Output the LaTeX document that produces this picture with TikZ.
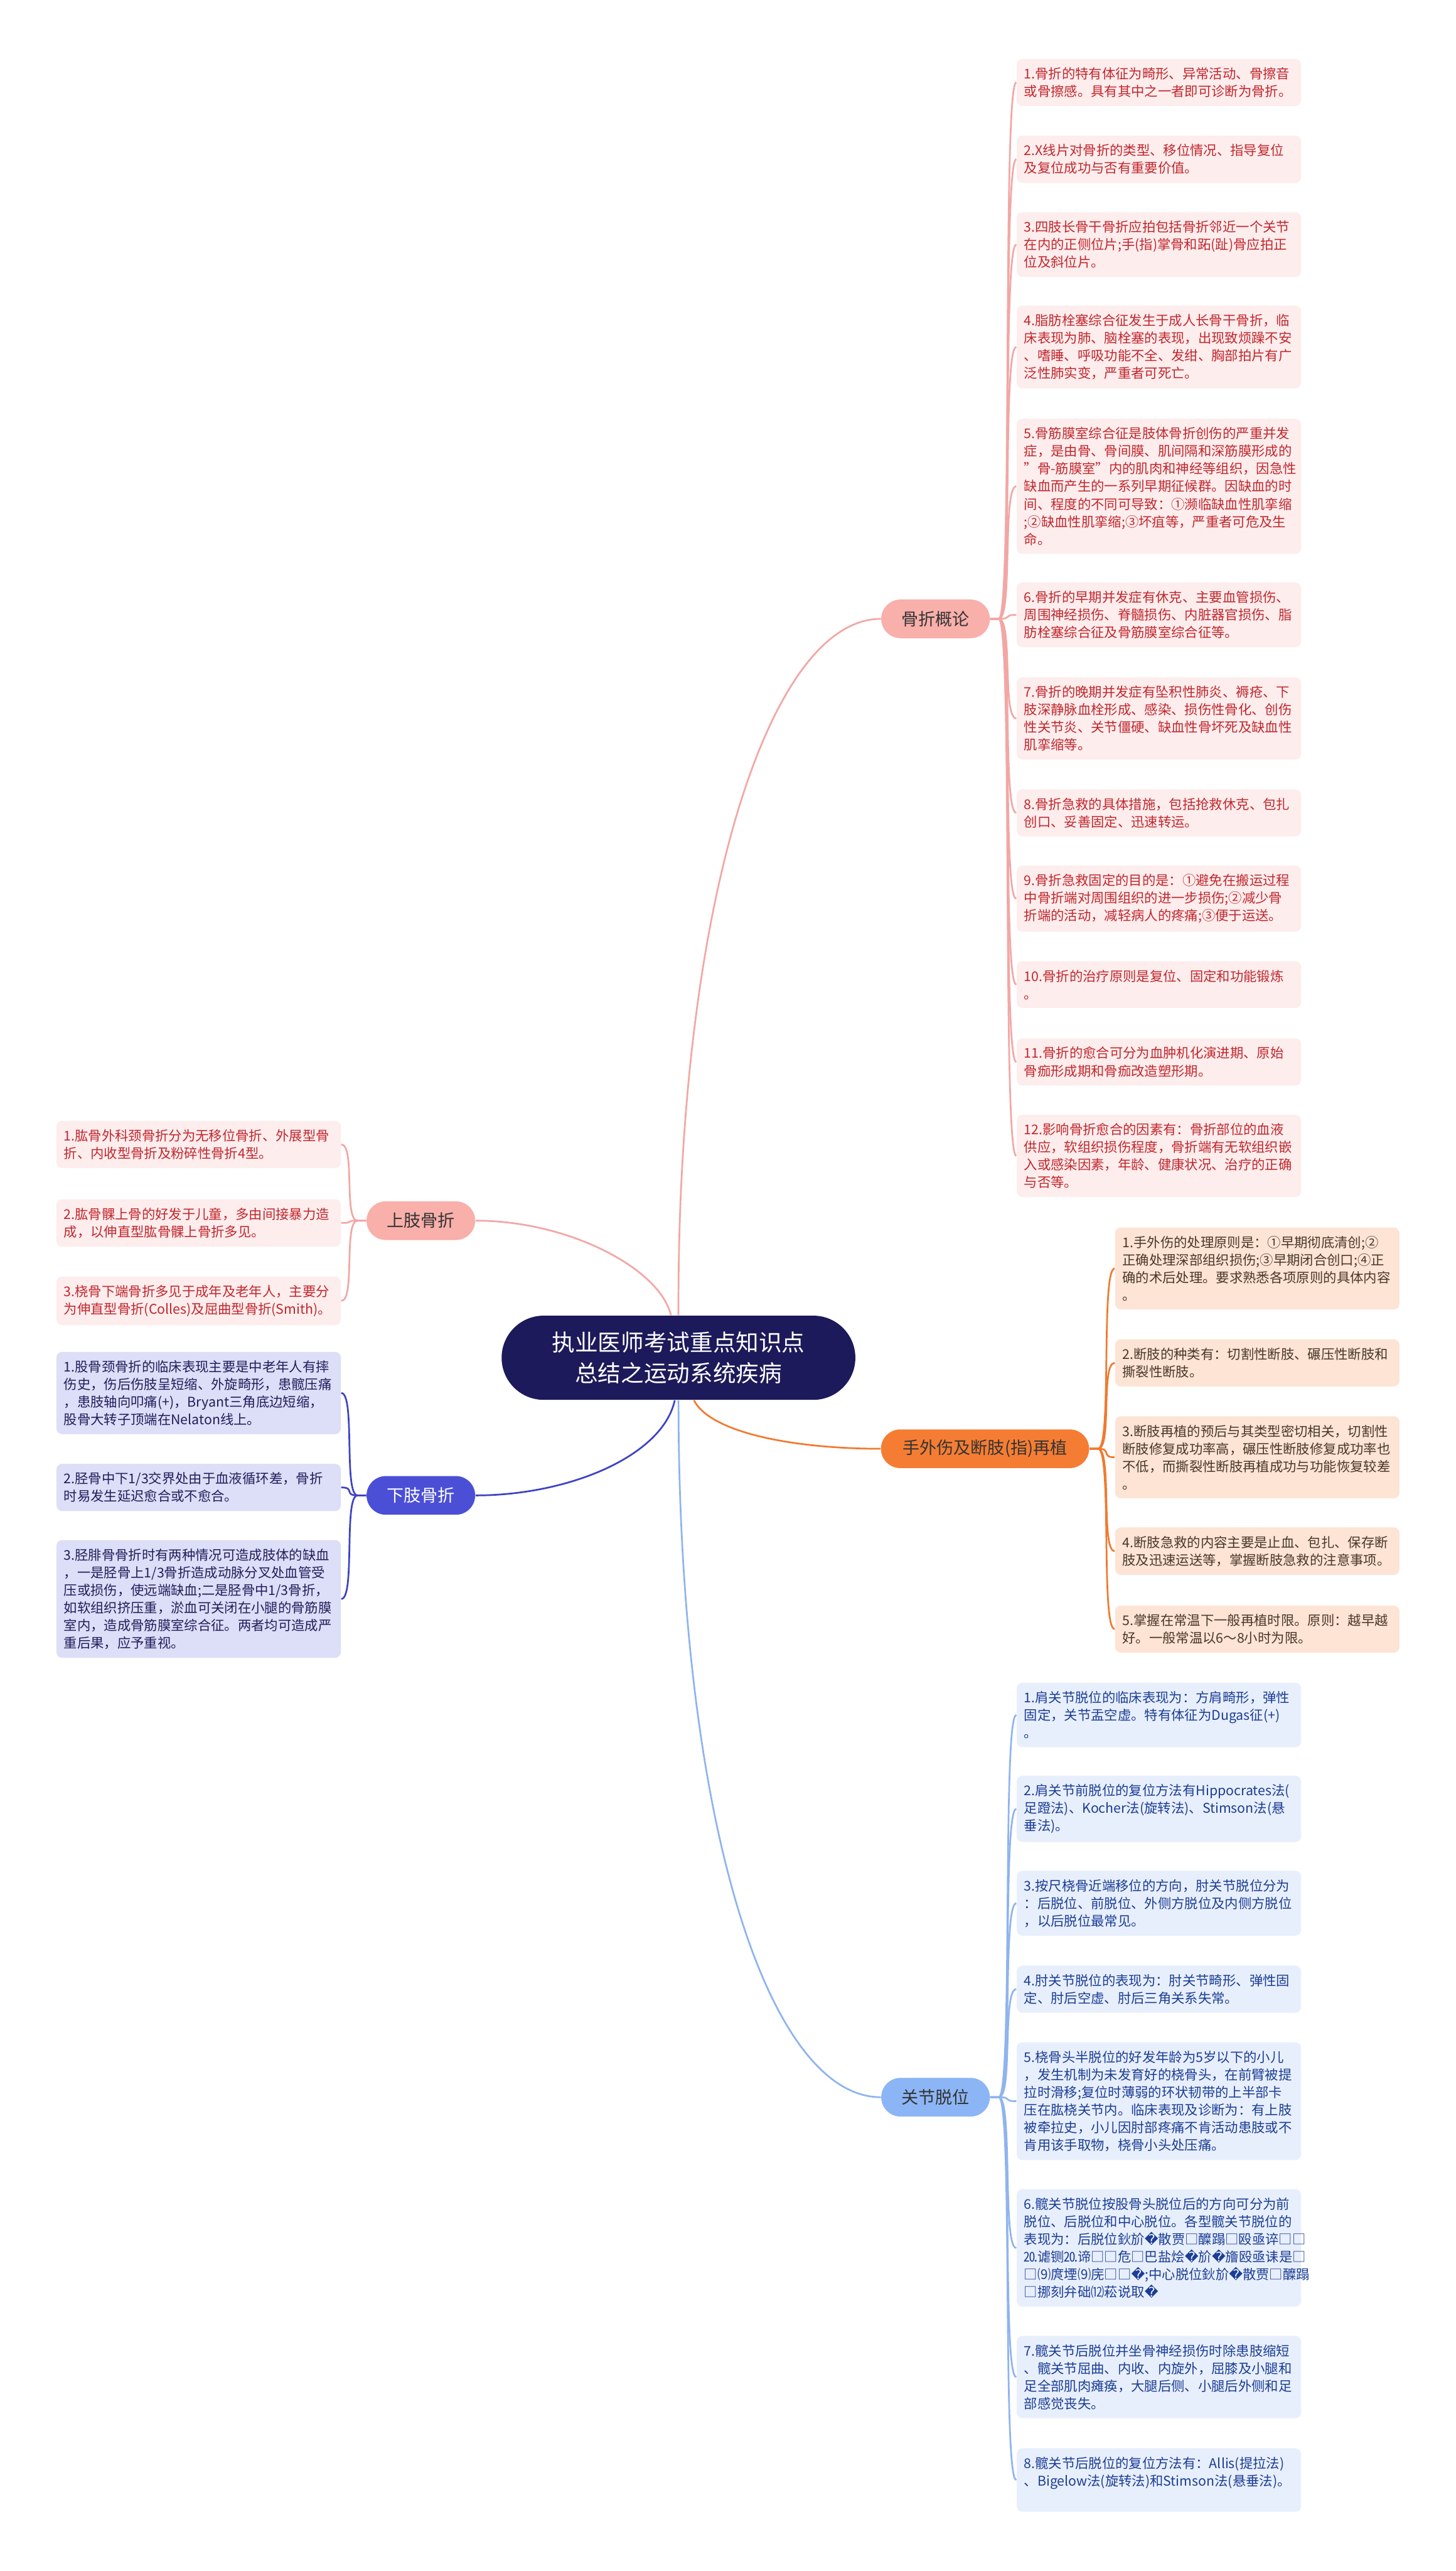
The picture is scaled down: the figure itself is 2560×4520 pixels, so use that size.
\documentclass[tikz,border=0pt]{standalone}
\usepackage{fontspec}
\setmainfont{Noto Sans CJK SC}
\newfontfamily\dejavu{DejaVu Sans}
\newcommand{\badch}{{\dejavu\char"FFFD}}
\newcommand{\dq}{\char"22\relax}

\definecolor{rootnavy}{HTML}{1C1A5A}
\definecolor{pkline}{HTML}{F2A7A5}
\definecolor{pkfill}{HTML}{F9AFAA}
\definecolor{pkleaf}{HTML}{FDEDED}
\definecolor{pktext}{HTML}{C1272D}
\definecolor{orline}{HTML}{F07A2F}
\definecolor{orfill}{HTML}{F57D33}
\definecolor{orleaf}{HTML}{FDE4D5}
\definecolor{ortext}{HTML}{4A3728}
\definecolor{vtline}{HTML}{3E43C2}
\definecolor{vtfill}{HTML}{4B4FD6}
\definecolor{vtleaf}{HTML}{DDDEF7}
\definecolor{vttext}{HTML}{1F1F5C}
\definecolor{blline}{HTML}{8FB4EE}
\definecolor{blfill}{HTML}{8CB5F5}
\definecolor{blleaf}{HTML}{E8EFFC}
\definecolor{bltext}{HTML}{1B3D94}

\begin{document}
\begin{tikzpicture}[
    x=0.1mm, y=-0.1mm,
    root/.style={rectangle, fill=rootnavy, text=white, rounded corners=7.4mm,
                 minimum width=62.2mm, minimum height=14.8mm, align=center,
                 font=\fontsize{11.5pt}{15.3pt}\selectfont},
    topic/.style={rectangle, rounded corners=3.4mm, minimum width=19.1mm,
                  minimum height=6.8mm, text=black!80,
                  font=\fontsize{8.5pt}{10pt}\selectfont},
    leaf/.style={rectangle, rounded corners=1mm, text width=47.4mm,
                 inner xsep=1.3mm, inner ysep=1.5mm, align=left,
                 font=\fontsize{6.7pt}{8.8pt}\selectfont},
    pkleafs/.style={leaf, fill=pkleaf, text=pktext},
    orleafs/.style={leaf, fill=orleaf, text=ortext},
    vtleafs/.style={leaf, fill=vtleaf, text=vttext},
    blleafs/.style={leaf, fill=blleaf, text=bltext},
    link/.style={line width=0.3mm}
]
  \fill[white] (0,0) rectangle (2560,4520);
  \path[use as bounding box] (0,0) rectangle (2560,4520);

  % Root
  \node[root] (root) at (1193,2387) {执业医师考试重点知识点\\总结之运动系统疾病};

  % Topics
  \node[topic, fill=pkfill] (gz) at (1645,1088) {骨折概论};
  \node[topic, fill=pkfill] (sz) at (740,2146) {上肢骨折};
  \node[topic, fill=vtfill, text=white] (xz) at (740,2629) {下肢骨折};
  \node[topic, fill=orfill, minimum width=36.6mm] (sw) at (1732,2547) {手外伤及断肢(指)再植};
  \node[topic, fill=blfill] (gj) at (1645,3687) {关节脱位};

  % Root to topics
  \draw[link, pkline] (root.north) .. controls (1190,1600) and (1350,1088) .. (gz.west);
  \draw[link, pkline] (root.100) .. controls (1160,2230) and (1000,2146) .. (sz.east);
  \draw[link, vtline] (root.265) .. controls (1165,2560) and (1000,2629) .. (xz.east);
  \draw[link, orline] (root.290) .. controls (1250,2520) and (1400,2547) .. (sw.west);
  \draw[link, blline] (root.south) .. controls (1193,3200) and (1350,3687) .. (gj.west);

  % Fracture basics
  \node[pkleafs, anchor=west] (gz1) at (1787,145) {1.骨折的特有体征为畸形、异常活动、骨擦音\\或骨擦感。具有其中之一者即可诊断为骨折。};
  \node[pkleafs, anchor=west] (gz2) at (1787,280) {2.X线片对骨折的类型、移位情况、指导复位\\及复位成功与否有重要价值。};
  \node[pkleafs, anchor=west] (gz3) at (1787,430) {3.四肢长骨干骨折应拍包括骨折邻近一个关节\\在内的正侧位片;手(指)掌骨和跖(趾)骨应拍正\\位及斜位片。};
  \node[pkleafs, anchor=west] (gz4) at (1787,610) {4.脂肪栓塞综合征发生于成人长骨干骨折，临\\床表现为肺、脑栓塞的表现，出现致烦躁不安\\、嗜睡、呼吸功能不全、发绀、胸部拍片有广\\泛性肺实变，严重者可死亡。};
  \node[pkleafs, anchor=west] (gz5) at (1787,855) {5.骨筋膜室综合征是肢体骨折创伤的严重并发\\症，是由骨、骨间膜、肌间隔和深筋膜形成的\\\mbox{\dq 骨-筋膜室\dq 内的肌肉和神经等组织，因急性}\\缺血而产生的一系列早期征候群。因缺血的时\\间、程度的不同可导致：①濒临缺血性肌挛缩\\;②缺血性肌挛缩;③坏疽等，严重者可危及生\\命。};
  \node[pkleafs, anchor=west] (gz6) at (1787,1081) {6.骨折的早期并发症有休克、主要血管损伤、\\周围神经损伤、脊髓损伤、内脏器官损伤、脂\\肪栓塞综合征及骨筋膜室综合征等。};
  \node[pkleafs, anchor=west] (gz7) at (1787,1263) {7.骨折的晚期并发症有坠积性肺炎、褥疮、下\\肢深静脉血栓形成、感染、损伤性骨化、创伤\\性关节炎、关节僵硬、缺血性骨坏死及缺血性\\肌挛缩等。};
  \node[pkleafs, anchor=west] (gz8) at (1787,1429) {8.骨折急救的具体措施，包括抢救休克、包扎\\创口、妥善固定、迅速转运。};
  \node[pkleafs, anchor=west] (gz9) at (1787,1580) {9.骨折急救固定的目的是：①避免在搬运过程\\中骨折端对周围组织的进一步损伤;②减少骨\\折端的活动，减轻病人的疼痛;③便于运送。};
  \node[pkleafs, anchor=west] (gz10) at (1787,1731) {10.骨折的治疗原则是复位、固定和功能锻炼\\。};
  \node[pkleafs, anchor=west] (gz11) at (1787,1867) {11.骨折的愈合可分为血肿机化演进期、原始\\骨痂形成期和骨痂改造塑形期。};
  \node[pkleafs, anchor=west] (gz12) at (1787,2032) {12.影响骨折愈合的因素有：骨折部位的血液\\供应，软组织损伤程度，骨折端有无软组织嵌\\入或感染因素，年龄、健康状况、治疗的正确\\与否等。};

  \draw[link, pkline] (gz.east) -- ++(15,0) .. controls +(25,0) and +(-25,0) .. (gz1.west);
  \draw[link, pkline] (gz.east) -- ++(15,0) .. controls +(25,0) and +(-25,0) .. (gz2.west);
  \draw[link, pkline] (gz.east) -- ++(15,0) .. controls +(25,0) and +(-25,0) .. (gz3.west);
  \draw[link, pkline] (gz.east) -- ++(15,0) .. controls +(25,0) and +(-25,0) .. (gz4.west);
  \draw[link, pkline] (gz.east) -- ++(15,0) .. controls +(25,0) and +(-25,0) .. (gz5.west);
  \draw[link, pkline] (gz.east) -- ++(15,0) .. controls +(25,0) and +(-25,0) .. (gz6.west);
  \draw[link, pkline] (gz.east) -- ++(15,0) .. controls +(25,0) and +(-25,0) .. (gz7.west);
  \draw[link, pkline] (gz.east) -- ++(15,0) .. controls +(25,0) and +(-25,0) .. (gz8.west);
  \draw[link, pkline] (gz.east) -- ++(15,0) .. controls +(25,0) and +(-25,0) .. (gz9.west);
  \draw[link, pkline] (gz.east) -- ++(15,0) .. controls +(25,0) and +(-25,0) .. (gz10.west);
  \draw[link, pkline] (gz.east) -- ++(15,0) .. controls +(25,0) and +(-25,0) .. (gz11.west);
  \draw[link, pkline] (gz.east) -- ++(15,0) .. controls +(25,0) and +(-25,0) .. (gz12.west);

  % Upper limb
  \node[pkleafs, anchor=east] (sz1) at (600,2012) {1.肱骨外科颈骨折分为无移位骨折、外展型骨\\折、内收型骨折及粉碎性骨折4型。};
  \node[pkleafs, anchor=east] (sz2) at (600,2150) {2.肱骨髁上骨的好发于儿童，多由间接暴力造\\成，以伸直型肱骨髁上骨折多见。};
  \node[pkleafs, anchor=east] (sz3) at (600,2287) {3.桡骨下端骨折多见于成年及老年人，主要分\\为伸直型骨折(Colles)及屈曲型骨折(Smith)。};

  \draw[link, pkline] (sz.west) -- ++(-15,0) .. controls +(-25,0) and +(25,0) .. (sz1.east);
  \draw[link, pkline] (sz.west) -- ++(-15,0) .. controls +(-25,0) and +(25,0) .. (sz2.east);
  \draw[link, pkline] (sz.west) -- ++(-15,0) .. controls +(-25,0) and +(25,0) .. (sz3.east);

  % Lower limb
  \node[vtleafs, anchor=east] (xz1) at (600,2449) {1.股骨颈骨折的临床表现主要是中老年人有摔\\伤史，伤后伤肢呈短缩、外旋畸形，患髋压痛\\，患肢轴向叩痛(+)，Bryant三角底边短缩，\\股骨大转子顶端在Nelaton线上。};
  \node[vtleafs, anchor=east] (xz2) at (600,2615) {2.胫骨中下1/3交界处由于血液循环差，骨折\\时易发生延迟愈合或不愈合。};
  \node[vtleafs, anchor=east] (xz3) at (600,2811) {3.胫腓骨骨折时有两种情况可造成肢体的缺血\\，一是胫骨上1/3骨折造成动脉分叉处血管受\\压或损伤，使远端缺血;二是胫骨中1/3骨折，\\如软组织挤压重，淤血可关闭在小腿的骨筋膜\\室内，造成骨筋膜室综合征。两者均可造成严\\重后果，应予重视。};

  \draw[link, vtline] (xz.west) -- ++(-15,0) .. controls +(-25,0) and +(25,0) .. (xz1.east);
  \draw[link, vtline] (xz.west) -- ++(-15,0) .. controls +(-25,0) and +(25,0) .. (xz2.east);
  \draw[link, vtline] (xz.west) -- ++(-15,0) .. controls +(-25,0) and +(25,0) .. (xz3.east);

  % Hand injury and replantation
  \node[orleafs, anchor=west] (sw1) at (1960,2230) {1.手外伤的处理原则是：①早期彻底清创;②\\正确处理深部组织损伤;③早期闭合创口;④正\\确的术后处理。要求熟悉各项原则的具体内容\\。};
  \node[orleafs, anchor=west] (sw2) at (1960,2396) {2.断肢的种类有：切割性断肢、碾压性断肢和\\撕裂性断肢。};
  \node[orleafs, anchor=west] (sw3) at (1960,2562) {3.断肢再植的预后与其类型密切相关，切割性\\断肢修复成功率高，碾压性断肢修复成功率也\\不低，而撕裂性断肢再植成功与功能恢复较差\\。};
  \node[orleafs, anchor=west] (sw4) at (1960,2727) {4.断肢急救的内容主要是止血、包扎、保存断\\肢及迅速运送等，掌握断肢急救的注意事项。};
  \node[orleafs, anchor=west] (sw5) at (1960,2864) {5.掌握在常温下一般再植时限。原则：越早越\\好。一般常温以6～8小时为限。};

  \draw[link, orline] (sw.east) -- ++(15,0) .. controls +(25,0) and +(-25,0) .. (sw1.west);
  \draw[link, orline] (sw.east) -- ++(15,0) .. controls +(25,0) and +(-25,0) .. (sw2.west);
  \draw[link, orline] (sw.east) -- ++(15,0) .. controls +(25,0) and +(-25,0) .. (sw3.west);
  \draw[link, orline] (sw.east) -- ++(15,0) .. controls +(25,0) and +(-25,0) .. (sw4.west);
  \draw[link, orline] (sw.east) -- ++(15,0) .. controls +(25,0) and +(-25,0) .. (sw5.west);

  % Dislocations
  \node[blleafs, anchor=west] (gj1) at (1787,3015) {1.肩关节脱位的临床表现为：方肩畸形，弹性\\固定，关节盂空虚。特有体征为Dugas征(+)\\。};
  \node[blleafs, anchor=west] (gj2) at (1787,3180) {2.肩关节前脱位的复位方法有Hippocrates法(\\足蹬法)、Kocher法(旋转法)、Stimson法(悬\\垂法)。};
  \node[blleafs, anchor=west] (gj3) at (1787,3346) {3.按尺桡骨近端移位的方向，肘关节脱位分为\\：后脱位、前脱位、外侧方脱位及内侧方脱位\\，以后脱位最常见。};
  \node[blleafs, anchor=west] (gj4) at (1787,3497) {4.肘关节脱位的表现为：肘关节畸形、弹性固\\定、肘后空虚、肘后三角关系失常。};
  \node[blleafs, anchor=west] (gj5) at (1787,3694) {5.桡骨头半脱位的好发年龄为5岁以下的小儿\\，发生机制为未发育好的桡骨头，在前臂被提\\拉时滑移;复位时薄弱的环状韧带的上半部卡\\压在肱桡关节内。临床表现及诊断为：有上肢\\被牵拉史，小儿因肘部疼痛不肯活动患肢或不\\肯用该手取物，桡骨小头处压痛。};
  \node[blleafs, anchor=west] (gj6) at (1787,3952) {6.髋关节脱位按股骨头脱位后的方向可分为前\\脱位、后脱位和中心脱位。各型髋关节脱位的\\表现为：后脱位鈥斺\badch 散贾□醾蹋□殴亟谇□□\\⒛谑铡⒛谛□□危□巴盐烩\badch 斺\badch 旝殴亟诔是□\\□⑼庹堙⑼庑□□\badch;中心脱位鈥斺\badch 散贾□醾蹋\\□挪刻弁础⑿菘说取\badch};
  \node[blleafs, anchor=west] (gj7) at (1787,4179) {7.髋关节后脱位并坐骨神经损伤时除患肢缩短\\、髋关节屈曲、内收、内旋外，屈膝及小腿和\\足全部肌肉瘫痪，大腿后侧、小腿后外侧和足\\部感觉丧失。};
  \node[blleafs, anchor=west] (gj8) at (1787,4360) {8.髋关节后脱位的复位方法有：Allis(提拉法)\\、Bigelow法(旋转法)和Stimson法(悬垂法)。\\\mbox{}};

  \draw[link, blline] (gj.east) -- ++(15,0) .. controls +(25,0) and +(-25,0) .. (gj1.west);
  \draw[link, blline] (gj.east) -- ++(15,0) .. controls +(25,0) and +(-25,0) .. (gj2.west);
  \draw[link, blline] (gj.east) -- ++(15,0) .. controls +(25,0) and +(-25,0) .. (gj3.west);
  \draw[link, blline] (gj.east) -- ++(15,0) .. controls +(25,0) and +(-25,0) .. (gj4.west);
  \draw[link, blline] (gj.east) -- ++(15,0) .. controls +(25,0) and +(-25,0) .. (gj5.west);
  \draw[link, blline] (gj.east) -- ++(15,0) .. controls +(25,0) and +(-25,0) .. (gj6.west);
  \draw[link, blline] (gj.east) -- ++(15,0) .. controls +(25,0) and +(-25,0) .. (gj7.west);
  \draw[link, blline] (gj.east) -- ++(15,0) .. controls +(25,0) and +(-25,0) .. (gj8.west);
\end{tikzpicture}
\end{document}
